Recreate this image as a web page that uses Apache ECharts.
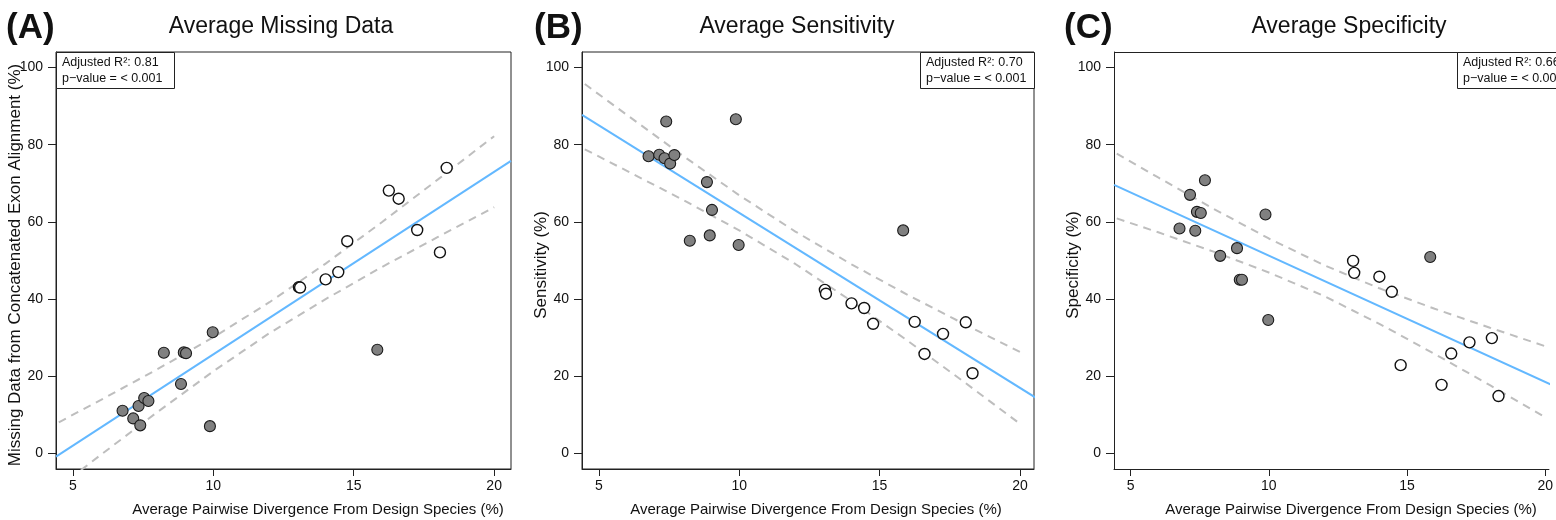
<!DOCTYPE html>
<html><head><meta charset="utf-8">
<script src="https://cdn.jsdelivr.net/npm/echarts@6/dist/echarts.min.js"></script>
<style>html,body{margin:0;padding:0;background:#fff}#c{width:1556px;height:520px}</style>
</head><body><div id="c"></div>
<script>
// ---------- data ----------
const X_TICKS = [5, 10, 15, 20];
const Y_TICKS = [0, 20, 40, 60, 80, 100];

// divergence (x) of filled (grey) and open (white) points
const X_FILLED = [6.77, 7.15, 7.34, 7.40, 7.54, 7.69, 8.24, 8.85, 8.95, 9.03, 9.88, 9.98, 15.84];
const X_OPEN   = [13.05, 13.09, 14.0, 14.45, 14.77, 16.25, 16.6, 17.26, 18.07, 18.31];

// Panel A: missing data
const A_FILLED = [11.1, 9.1, 12.3, 7.3, 14.4, 13.6, 26.1, 18.0, 26.2, 26.0, 7.1, 31.4, 26.9];
const A_OPEN   = [43.1, 43.0, 45.1, 47.0, 55.0, 68.1, 66.0, 57.9, 52.1, 74.0];
// Panel B: sensitivity
const B_FILLED = [77.0, 77.4, 76.5, 86.0, 75.1, 77.3, 55.1, 70.3, 56.5, 63.1, 86.6, 54.0, 57.8];
const B_OPEN   = [42.4, 41.4, 38.9, 37.7, 33.6, 34.1, 25.8, 31.0, 34.0, 20.8];
// Panel C: specificity
const C_FILLED = [58.3, 67.0, 57.7, 62.6, 62.3, 70.8, 51.2, 53.2, 45.0, 45.0, 61.9, 34.6, 50.9];
const C_OPEN   = [49.9, 46.8, 45.8, 41.9, 22.9, 17.8, 25.9, 28.8, 29.9, 14.9];

// regression lines (read at the plot edges)
const REG_X = [4.4, 20.6];
const A_REG = [-0.8, 75.8];
const B_REG = [87.7, 14.3];
const C_REG = [69.6, 16.6];

// confidence bands (read along x)
const BAND_X  = [4.5, 6, 8, 10, 12, 14, 16, 18, 20];
const A_UPPER = [8.1, 13.9, 21.8, 30.1, 39.2, 49.2, 59.9, 71.0, 82.2];
const A_LOWER = [-8.7, -0.3, 10.7, 21.3, 31.2, 40.0, 48.3, 56.1, 63.8];
const B_UPPER = [95.7, 87.7, 77.1, 66.9, 57.5, 49.0, 41.1, 33.6, 26.3];
const B_LOWER = [78.8, 73.2, 65.7, 57.8, 49.1, 39.5, 29.2, 18.6, 7.7];
const C_UPPER = [77.7, 71.5, 63.4, 55.7, 48.8, 42.8, 37.5, 32.6, 27.8];
const C_LOWER = [60.9, 57.3, 52.3, 46.9, 40.8, 33.6, 25.8, 17.7, 9.4];

const LETTERS = ['(A)', '(B)', '(C)'];
const TITLES = ['Average Missing Data', 'Average Sensitivity', 'Average Specificity'];
const Y_NAMES = ['Missing Data from Concatenated Exon Alignment (%)', 'Sensitivity (%)', 'Specificity (%)'];
const X_NAME = 'Average Pairwise Divergence From Design Species (%)';
const R2 = ['0.81', '0.70', '0.66'];
const PVAL = '< 0.001';

// ---------- layout ----------
const FONT = '"Liberation Sans", Arial, Helvetica, sans-serif';
// C's plot runs past the right edge of the page: only its visible part is laid out
const GRIDS = [
  {left: 56, width: 455, xmax: 20.6, border: true},
  {left: 582, width: 452, xmax: 20.5, border: true},
  {left: 1114, width: 442, xmax: 20.135, border: false}
];
const TOP = 52, HEIGHT = 417;
const TITLE_CX = [281, 797, 1349];
const LETTER_X = [6, 534, 1064];
const YNAME_X = [15, 541, 1073];
const XNAME_CX = [318, 816, 1351];
const BOX = [{x: 56, w: 118}, {x: 920, w: 114}, {x: 1457, w: 130}];

const panels = [
  {filled: A_FILLED, open: A_OPEN, reg: A_REG, up: A_UPPER, lo: A_LOWER},
  {filled: B_FILLED, open: B_OPEN, reg: B_REG, up: B_UPPER, lo: B_LOWER},
  {filled: C_FILLED, open: C_OPEN, reg: C_REG, up: C_UPPER, lo: C_LOWER}
];

const grid = [], xAxis = [], yAxis = [], series = [], graphic = [];
const zip = (xs, ys) => xs.map((x, i) => [x, ys[i]]);

panels.forEach((p, i) => {
  const g = GRIDS[i];
  grid.push({left: g.left, top: TOP, width: g.width, height: HEIGHT, show: g.border,
    borderColor: '#222', borderWidth: 1, backgroundColor: 'transparent', containLabel: false});
  xAxis.push({type: 'value', gridIndex: i, min: 4.4, max: g.xmax,
    axisLine: {show: true, onZero: false, lineStyle: {color: '#222', width: 1}},
    axisTick: {show: true, customValues: X_TICKS, length: 7, lineStyle: {color: '#222'}},
    axisLabel: {customValues: X_TICKS, fontSize: 14, color: '#111', margin: 10, fontFamily: FONT},
    splitLine: {show: false}});
  yAxis.push({type: 'value', gridIndex: i, min: -4, max: 104,
    axisLine: {show: true, onZero: false, lineStyle: {color: '#222', width: 1}},
    axisTick: {show: true, customValues: Y_TICKS, length: 8, lineStyle: {color: '#222'}},
    axisLabel: {customValues: Y_TICKS, fontSize: 14, color: '#111', margin: 13, fontFamily: FONT},
    splitLine: {show: false}});
  if (!g.border) {
    graphic.push({type: 'line', z: 14, shape: {x1: g.left, y1: TOP + 0.5, x2: g.left + g.width + 20, y2: TOP + 0.5},
      style: {stroke: '#222', lineWidth: 1}});
  }

  const dashed = {color: '#BEBEBE', width: 2, type: [8, 6]};
  series.push({type: 'line', xAxisIndex: i, yAxisIndex: i, data: zip(BAND_X, p.up),
    showSymbol: false, symbol: 'none', lineStyle: dashed, z: 2, silent: true, clip: true});
  series.push({type: 'line', xAxisIndex: i, yAxisIndex: i, data: zip(BAND_X, p.lo),
    showSymbol: false, symbol: 'none', lineStyle: dashed, z: 2, silent: true, clip: true});
  series.push({type: 'line', xAxisIndex: i, yAxisIndex: i, data: zip(REG_X, p.reg),
    showSymbol: false, symbol: 'none', lineStyle: {color: '#63B8FF', width: 2}, z: 3, silent: true, clip: true});
  series.push({type: 'scatter', xAxisIndex: i, yAxisIndex: i, data: zip(X_FILLED, p.filled),
    symbolSize: 11, itemStyle: {color: '#808080', borderColor: '#1a1a1a', borderWidth: 1.1, opacity: 1}, z: 5});
  series.push({type: 'scatter', xAxisIndex: i, yAxisIndex: i, data: zip(X_OPEN, p.open),
    symbolSize: 11, itemStyle: {color: '#ffffff', borderColor: '#111', borderWidth: 1.4, opacity: 1}, z: 5});

  const txt = (x, y, text, extra) => ({type: 'text', x: x, y: y, z: 20,
    style: Object.assign({text: text, fontFamily: FONT, fill: '#111'}, extra)});
  const mid = {verticalAlign: 'middle', textVerticalAlign: 'middle'};
  graphic.push(txt(LETTER_X[i], 28, LETTERS[i], Object.assign({fontSize: 35, fontWeight: 'bold',
    align: 'left', textAlign: 'left'}, mid)));
  graphic.push(txt(TITLE_CX[i], 27, TITLES[i], Object.assign({fontSize: 23,
    align: 'center', textAlign: 'center'}, mid)));
  graphic.push(txt(XNAME_CX[i], 510, X_NAME, Object.assign({fontSize: 15,
    align: 'center', textAlign: 'center'}, mid)));
  const yn = txt(YNAME_X[i], 265, Y_NAMES[i], Object.assign({fontSize: 17,
    align: 'center', textAlign: 'center'}, mid));
  yn.rotation = Math.PI / 2;
  graphic.push(yn);

  const b = BOX[i];
  graphic.push({type: 'rect', z: 15, shape: {x: b.x + 0.5, y: TOP + 0.5, width: b.w, height: 36},
    style: {fill: '#fff', stroke: '#222', lineWidth: 1}});
  graphic.push(txt(b.x + 6, TOP + 11, 'Adjusted R\u00B2: ' + R2[i], Object.assign({fontSize: 12.5,
    align: 'left', textAlign: 'left'}, mid)));
  graphic.push(txt(b.x + 6, TOP + 27, 'p\u2212value = ' + PVAL, Object.assign({fontSize: 12.5,
    align: 'left', textAlign: 'left'}, mid)));
});

const chart = echarts.init(document.getElementById('c'), null, {renderer: 'canvas'});
chart.setOption({
  animation: false,
  backgroundColor: '#fff',
  grid: grid, xAxis: xAxis, yAxis: yAxis, series: series, graphic: graphic
});
</script></body></html>
